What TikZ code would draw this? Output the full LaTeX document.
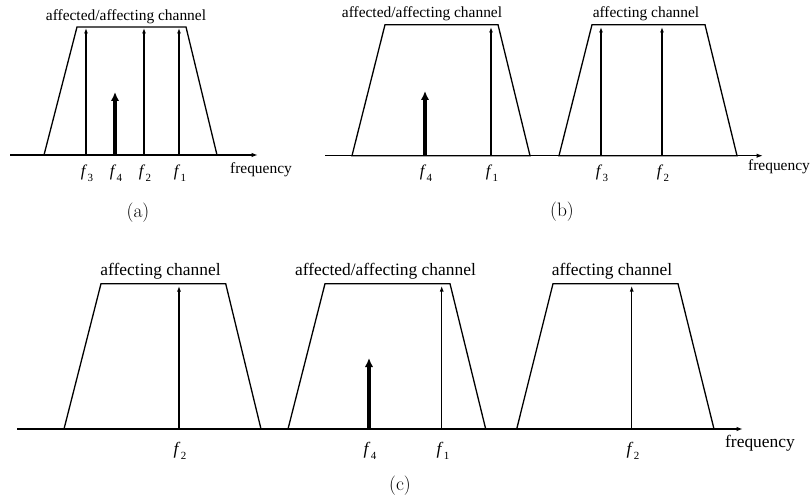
\documentclass[tikz,border=0pt]{standalone}
\usepackage{fontspec}
\newfontfamily\tnr{Liberation Serif}
\usetikzlibrary{arrows.meta}
\newcommand{\fsub}[1]{\textit{f}\kern0.3pt\raisebox{-0.3em}{\fontsize{11}{11}\selectfont #1}}
\tikzset{
  axisline/.style={line width=1.3bp,-{Latex[length=6.5bp,width=4.5bp]}},
  band/.style={line width=1.3bp,line join=miter},
  tone/.style={line width=1.1bp,-{Latex[length=5.5bp,width=4bp]}},
  victim/.style={line width=3.2bp,-{Latex[length=9bp,width=8.5bp]}},
  ttlA/.style={font=\tnr\fontsize{15.5}{17}\selectfont,inner sep=0},
  ttlC/.style={font=\tnr\fontsize{17.5}{19}\selectfont,inner sep=0},
  flA/.style={font=\tnr\fontsize{16.5}{18}\selectfont,inner sep=0},
  flC/.style={font=\tnr\fontsize{17.5}{19}\selectfont,inner sep=0},
  sublabel/.style={font=\fontsize{19.5}{22}\selectfont,inner sep=0}
}
\begin{document}
\begin{tikzpicture}[x=1bp,y=-1bp]
\useasboundingbox (0,0) rectangle (811,500);

% ---------- panel (a) ----------
\coordinate (aL) at (10,155);
\coordinate (aR) at (258,155);
\draw[band] (44,155) -- (77,27) -- (186,27) -- (217,155) -- cycle;
\draw[axisline] (aL) -- (aR);
\foreach \n/\x in {a3/86,a2/144,a1/179}{
  \coordinate (\n b) at (\x,155);
  \coordinate (\n t) at (\x,28);
  \draw[tone] (\n b) -- (\n t);
}
\coordinate (a4b) at (115,155);
\coordinate (a4t) at (115,92);
\draw[victim] (a4b) -- (a4t);
\node[ttlA] (atitle) at (126,17) {affected/affecting channel};
\node[flA] (af3) at (87,173) {\fsub{3}};
\node[flA] (af4) at (116,173) {\fsub{4}};
\node[flA] (af2) at (145,173) {\fsub{2}};
\node[flA] (af1) at (180,173) {\fsub{1}};
\node[ttlA] (afreq) at (261,170) {frequency};
\node[sublabel] (acap) at (138,213) {(a)};

% ---------- panel (b) ----------
\coordinate (bL) at (325,155.7);
\coordinate (bR) at (763,155.7);
\draw[band] (352,155.7) -- (385,24.7) -- (498,24.7) -- (530,155.7) -- cycle;
\draw[band] (559,155.7) -- (592,24.7) -- (705,24.7) -- (737,155.7) -- cycle;
\draw[axisline] (bL) -- (bR);
\foreach \n/\x in {b1/491,b3/601,b2/662}{
  \coordinate (\n b) at (\x,155.7);
  \coordinate (\n t) at (\x,27);
  \draw[tone] (\n b) -- (\n t);
}
\coordinate (b4b) at (425,155.7);
\coordinate (b4t) at (425,91);
\draw[victim] (b4b) -- (b4t);
\node[ttlA] (btitle1) at (422,14) {affected/affecting channel};
\node[ttlA] (btitle2) at (646,14) {affecting channel};
\node[flA] (bf4) at (426,173) {\fsub{4}};
\node[flA] (bf1) at (492,173) {\fsub{1}};
\node[flA] (bf3) at (602,173) {\fsub{3}};
\node[flA] (bf2) at (663,173) {\fsub{2}};
\node[ttlA] (bfreq) at (779,167) {frequency};
\node[sublabel] (bcap) at (562,212) {(b)};

% ---------- panel (c) ----------
\coordinate (cL) at (17,429);
\coordinate (cR) at (743,429);
\draw[band] (64,429) -- (101,283.7) -- (225.7,283.7) -- (261,429) -- cycle;
\draw[band] (288,429) -- (325,283.7) -- (450,283.7) -- (485.7,429) -- cycle;
\draw[band] (516.7,429) -- (553,283.7) -- (678,283.7) -- (714,429) -- cycle;
\draw[axisline] (cL) -- (cR);
\foreach \n/\x in {c2/179,c1/441.7,c5/631.7}{
  \coordinate (\n b) at (\x,429);
  \coordinate (\n t) at (\x,286);
  \draw[tone] (\n b) -- (\n t);
}
\coordinate (c4b) at (369,429);
\coordinate (c4t) at (369,358);
\draw[victim] (c4b) -- (c4t);
\node[ttlC] (ctitle1) at (160.5,271) {affecting channel};
\node[ttlC] (ctitle2) at (385.5,271) {affected/affecting channel};
\node[ttlC] (ctitle3) at (612,271) {affecting channel};
\node[flC] (cf2) at (180,451) {\fsub{2}};
\node[flC] (cf4) at (370,451) {\fsub{4}};
\node[flC] (cf1) at (443,451) {\fsub{1}};
\node[flC] (cf2b) at (633,451) {\fsub{2}};
\node[ttlC] (cfreq) at (760,443) {frequency};
\node[sublabel] (ccap) at (400,486) {(c)};
\end{tikzpicture}
\end{document}
